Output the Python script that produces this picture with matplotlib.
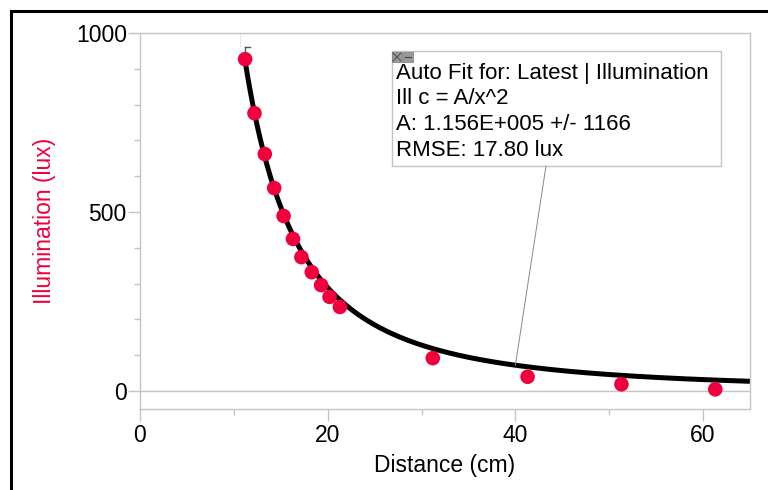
import numpy as np
import matplotlib
matplotlib.use('Agg')
import matplotlib.pyplot as plt
from matplotlib.patches import Rectangle
from matplotlib.lines import Line2D

plt.rcParams['font.family'] = ['Liberation Sans', 'DejaVu Sans']

# measured data
distance = [11.2, 12.2, 13.3, 14.3, 15.3, 16.3, 17.2, 18.3, 19.3, 20.2, 21.3, 31.2, 41.3, 51.3, 61.3]
illum = [927, 776, 662, 567, 489, 425, 374, 332, 296, 263, 235, 92, 40, 19, 5]

# fit parameters
fit_A = 1.156e5
fit_lines = ["Auto Fit for: Latest | Illumination",
             "Ill c = A/x^2",
             "A: 1.156E+005 +/- 1166",
             "RMSE: 17.80 lux"]

W, H = 768, 490
fig = plt.figure(figsize=(W / 100, H / 100), dpi=100)
ax = fig.add_axes([140 / W, 1 - 409 / H, (750 - 140) / W, (409 - 33) / H])

grey = '#c4c4c4'
red = '#f0003c'

# fitted curve
xf = np.linspace(min(distance), 65, 400)
ax.plot(xf, fit_A / xf ** 2, color='black', lw=3.6, zorder=2, solid_capstyle='butt')
ax.scatter(distance, illum, s=110, color=red, edgecolors='none', zorder=3)

ax.axhline(0, color=grey, lw=1, zorder=1)

ax.set_xlim(0, 65)
ax.set_ylim(-50, 1000)
ax.set_xticks([0, 20, 40, 60])
ax.set_xticks(np.arange(0, 65, 10), minor=True)
ax.set_yticks([0, 500, 1000])
ax.set_yticks(np.arange(0, 1001, 100), minor=True)
for s in ax.spines.values():
    s.set_color(grey)
    s.set_linewidth(1)
ax.tick_params(which='major', length=8.5, color=grey, width=1, labelsize=16.5, pad=1)
ax.tick_params(axis='x', which='major', pad=2.5)
ax.tick_params(which='minor', length=4.3, color=grey, width=1)
ax.set_xlabel('Distance (cm)', fontsize=16.5, labelpad=5)
ax.set_ylabel('Illumination (lux)', fontsize=16.5, color=red, labelpad=14)

# fit range bracket at the first point
x0 = min(distance)
ytop = 1000 - (47 - 33) / 0.358
ax.plot([x0, x0], [945, ytop], color='#555555', lw=1, zorder=4)
ax.plot([x0, x0 + 0.5], [ytop, ytop], color='#555555', lw=1, zorder=4)
ax.plot([x0 - 0.5, x0 - 0.5], [965, 1000], color=grey, lw=0.8, ls=':', zorder=1)

# annotation connector line (box bottom to curve at x=40)
bx0, by0 = 546, 166
xa = 40
ya = fit_A / xa ** 2
disp = ax.transData.transform((xa, ya))
fx, fy = fig.transFigure.inverted().transform(disp)
fig.add_artist(Line2D([bx0 / W, fx], [1 - by0 / H, fy], color='#888888', lw=0.7))

# annotation box
fig.add_artist(Rectangle((392 / W, 1 - 166 / H), (721 - 392) / W, (166 - 51) / H,
                         transform=fig.transFigure, facecolor='white', edgecolor=grey, lw=1))
for i, t in enumerate(fit_lines):
    fig.text(396 / W, 1 - (79 + 25.5 * i) / H, t, fontsize=16, va='baseline', ha='left')
# small close / minimise icons
fig.add_artist(Rectangle((392 / W, 1 - 62 / H), 10 / W, 10 / H, transform=fig.transFigure,
                         facecolor='#9a9a9a', edgecolor='#777777', lw=0.5))
fig.add_artist(Rectangle((403 / W, 1 - 62 / H), 10 / W, 10 / H, transform=fig.transFigure,
                         facecolor='#9a9a9a', edgecolor='#777777', lw=0.5))
fig.add_artist(Line2D([393 / W, 401 / W], [1 - 61 / H, 1 - 53 / H], color='#444444', lw=0.6))
fig.add_artist(Line2D([393 / W, 401 / W], [1 - 53 / H, 1 - 61 / H], color='#444444', lw=0.6))
fig.add_artist(Line2D([405 / W, 411 / W], [1 - 57 / H, 1 - 57 / H], color='#444444', lw=0.8))

# outer frame (top and left only)
fig.add_artist(Line2D([11 / W, 1], [1 - 11 / H, 1 - 11 / H], color='black', lw=2.2))
fig.add_artist(Line2D([11 / W, 11 / W], [0, 1 - 11 / H], color='black', lw=2.2))

fig.savefig('out.png', dpi=100)
